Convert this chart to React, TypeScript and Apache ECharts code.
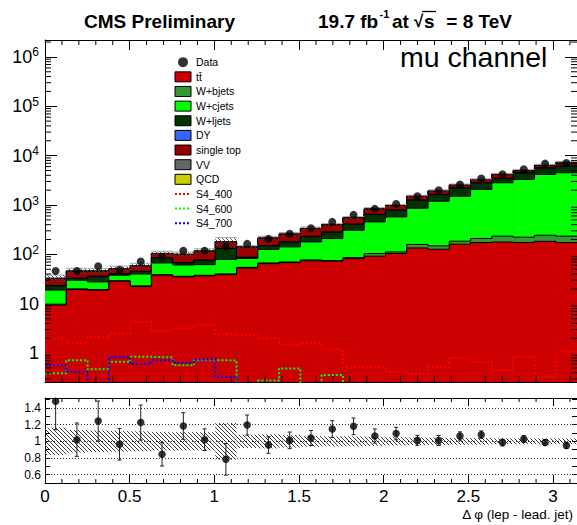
import React, { useEffect, useRef } from "react";
import * as echarts from "echarts";

const FONT = '"Liberation Sans", Arial, Helvetica, sans-serif';
const PI = Math.PI;
const NB = 25;
const BW = PI / NB;
const Y_MIN = 0.26;
const Y_MAX = 2.2e6;
const R_MIN = 0.5;
const R_MAX = 1.52;

// ---- stacked backgrounds (events per bin) ----
const ttbar = [9.4, 19.5, 18.9, 28.6, 22.4, 37.9, 35, 36.7, 39, 53, 65, 68, 74, 73, 82, 92, 104, 135, 127, 161, 174, 178, 174, 184, 174];
const wbjets = [0.4, 0.5, 0.5, 0.6, 0.6, 0.9, 1, 1, 1.2, 1.5, 2, 2, 3, 2, 4, 12, 8, 24, 22, 24, 36, 56, 49, 60, 60];
const wcjets = [9.1, 10, 8.3, 8.7, 17, 28.2, 25, 24.3, 38.8, 28.5, 59, 72, 102, 134, 223, 351, 463, 702, 1045, 1322, 1860, 2586, 3077, 3926, 4266];
const wljets = [4.1, 2.5, 8, 2.1, 5, 17, 6, 14, 53, 3.5, 23, 37, 51, 72, 99, 188, 210, 389, 428, 693, 730, 600, 1100, 1280, 1550];
const dyjets = [0.3, 0.3, 0.4, 0.4, 0.5, 0.6, 0.7, 0.8, 1, 1.2, 1.5, 2, 2.5, 3, 4, 5, 8, 12, 20, 30, 45, 70, 150, 300, 350];
const singleTop = [9.2, 12.9, 9.6, 10.6, 13, 19.4, 31.9, 39.2, 46, 52.3, 62.5, 75, 101.5, 111, 136, 174, 184, 245, 288, 320, 405, 710, 400, 550, 650];
const diboson = [0.3, 0.3, 0.4, 0.4, 0.5, 0.6, 0.8, 0.9, 1, 1.2, 1.5, 2, 2.5, 3, 4, 5, 6, 8, 10, 14, 18, 22, 28, 35, 40];
const qcd = [0, 0, 0, 0, 0, 0, 0, 0, 0, 0, 0, 0, 0, 0, 0, 15, 0, 0, 0, 0, 0, 0, 80, 120, 300];

// ---- data ----
const dataCounts = [46, 46, 57.7, 49, 72, 89, 118, 118, 144, 163, 206, 262, 337, 455, 631, 834, 1052, 1507, 1995, 2600, 3440, 4200, 5300, 6900, 7110];

// ---- signals ----
const s4_400 = [1.98, 1.57, 2.1, 2.5, 4.3, 2.8, 3.2, 3.7, 2.42, 2.3, 1.98, 1.48, 1.6, 1.19, 0.53, 0.53, 0.42, 0.38, 0.53, 0.8, 0.67, 0.45, 0.84, 0.33, 1.06];
const s4_600 = [0.39, 0.72, 0.47, 0.67, 0.84, 0.82, 0.57, 0.72, 0.71, 0, 0.28, 0.49, 0, 0.36, 0, 0, 0, 0, 0, 0, 0, 0, 0, 0, 0];
const s4_700 = [0.57, 0.42, 0, 0.82, 0.6, 0.72, 0.64, 0.74, 0.33, 0, 0, 0, 0, 0, 0, 0, 0, 0, 0, 0, 0, 0, 0, 0, 0];

// ---- ratio panel ----
const ratioValues = [1.48, 1.02, 1.244, 0.965, 1.225, 0.844, 1.184, 1.02, 0.784, 1.196, 0.956, 1.012, 1.04, 1.148, 1.18, 1.064, 1.093, 1.012, 1.01, 1.064, 1.08, 0.985, 1.028, 0.985, 0.949];
const ratioErrors = [0.34, 0.2, 0.24, 0.19, 0.21, 0.14, 0.16, 0.13, 0.19, 0.12, 0.1, 0.1, 0.09, 0.1, 0.1, 0.085, 0.075, 0.06, 0.06, 0.05, 0.045, 0.04, 0.04, 0.035, 0.035];
const bandHalf = [0.165, 0.135, 0.13, 0.125, 0.12, 0.11, 0.11, 0.11, 0.22, 0.08, 0.085, 0.075, 0.065, 0.06, 0.06, 0.055, 0.05, 0.045, 0.045, 0.04, 0.04, 0.035, 0.035, 0.035, 0.035];
const ratioGridLines = [0.6, 0.8, 1, 1.2, 1.4];

const layers = [
  { name: "tt\u0304", color: "#cc0000", values: ttbar },
  { name: "W+bjets", color: "#339933", values: wbjets },
  { name: "W+cjets", color: "#00ff00", values: wcjets },
  { name: "W+ljets", color: "#003300", values: wljets },
  { name: "DY", color: "#3366ff", values: dyjets },
  { name: "single top", color: "#990000", values: singleTop },
  { name: "VV", color: "#666666", values: diboson },
  { name: "QCD", color: "#cccc00", values: qcd },
];
const signals = [
  { name: "S4_400", color: "#ff0000", values: s4_400 },
  { name: "S4_600", color: "#00ff00", values: s4_600 },
  { name: "S4_700", color: "#0000ff", values: s4_700 },
];

const cum: number[][] = [dataCounts.map(() => 0)];
layers.forEach((l, k) => cum.push(cum[k].map((c, i) => c + l.values[i])));
const totals = cum[cum.length - 1];
const center = (i: number) => (i + 0.5) * BW;

function hatch(x0: number, y0: number, x1: number, y1: number, s: number, stroke: string, lw: number) {
  const out: any[] = [];
  if (x1 <= x0 || y1 <= y0) return out;
  let c = Math.ceil((y0 - x1) / s) * s;
  for (; c <= y1 - x0; c += s) {
    const xa = Math.max(x0, y0 - c);
    const xb = Math.min(x1, y1 - c);
    if (xb > xa) out.push({ type: "line", shape: { x1: xa, y1: xa + c, x2: xb, y2: xb + c }, style: { stroke, lineWidth: lw } });
  }
  return out;
}
const seg = (x1: number, y1: number, x2: number, y2: number, w = 1, c = "#000") => ({
  type: "line",
  shape: { x1, y1, x2, y2 },
  style: { stroke: c, lineWidth: w },
});

function buildOption(): any {
  const series: any[] = [];
  // stacks, top layer first so lower layers paint over
  for (let k = layers.length - 1; k >= 0; k--) {
    const L = layers[k];
    series.push({
      type: "custom",
      name: L.name,
      xAxisIndex: 0,
      yAxisIndex: 0,
      clip: true,
      silent: true,
      itemStyle: { color: L.color },
      encode: { x: 0, y: 1 },
      data: cum[k + 1].map((v, i) => [center(i), Math.max(v, Y_MIN)]),
      renderItem: (params: any, api: any) => {
        const i = params.dataIndex;
        const top = Math.max(cum[k + 1][i], Y_MIN);
        const pT = api.coord([i * BW, top]);
        const pB = api.coord([(i + 1) * BW, Y_MIN]);
        const ch: any[] = [
          { type: "rect", shape: { x: pT[0], y: pT[1], width: pB[0] - pT[0] + 0.6, height: pB[1] - pT[1] }, style: { fill: L.color } },
          seg(pT[0], pT[1], pB[0], pT[1]),
        ];
        if (i > 0) {
          const py = api.coord([i * BW, Math.max(cum[k + 1][i - 1], Y_MIN)])[1];
          ch.push(seg(pT[0], py, pT[0], pT[1]));
        }
        return { type: "group", children: ch };
      },
    });
  }
  // uncertainty band on the main pad
  series.push({
    type: "custom",
    xAxisIndex: 0,
    yAxisIndex: 0,
    clip: true,
    silent: true,
    encode: { x: 0, y: 1 },
    data: totals.map((v, i) => [center(i), v]),
    renderItem: (params: any, api: any) => {
      const i = params.dataIndex;
      const a = api.coord([i * BW, totals[i] * (1 + bandHalf[i])]);
      const b = api.coord([(i + 1) * BW, totals[i] * (1 - bandHalf[i])]);
      const ch = hatch(a[0], a[1], b[0], b[1], 4, "#444", 0.9);
      ch.push(seg(a[0], a[1], b[0], a[1], 1, "#aaa"));
      return { type: "group", children: ch };
    },
  });
  // signals
  signals.forEach((s) => {
    const pts = s.values.map((v, i) => [i * BW, v > 0 ? v : 0.1]);
    const last = s.values[NB - 1];
    pts.push([PI, last > 0 ? last : 0.1]);
    series.push({
      type: "line",
      name: s.name,
      xAxisIndex: 0,
      yAxisIndex: 0,
      step: "end",
      symbol: "none",
      silent: true,
      clip: true,
      color: s.color,
      lineStyle: { color: s.color, width: 2, type: "dotted" },
      data: pts,
    });
  });
  // data points
  series.push({
    type: "scatter",
    name: "Data",
    xAxisIndex: 0,
    yAxisIndex: 0,
    symbol: "circle",
    symbolSize: 8,
    silent: true,
    itemStyle: { color: "#000" },
    data: dataCounts.map((v, i) => [center(i), v]),
    z: 4,
  });
  // minor ticks main pad
  series.push({
    type: "custom",
    xAxisIndex: 0,
    yAxisIndex: 0,
    clip: false,
    silent: true,
    z: 5,
    encode: { x: 0, y: 1 },
    data: [[0, 1]],
    renderItem: (params: any, api: any) => {
      const bl = api.coord([0, Y_MIN]);
      const tr = api.coord([PI, Y_MAX]);
      const ch: any[] = [];
      for (let k = 1; k <= 31; k++) {
        if (k % 5 === 0) continue;
        const px = api.coord([k / 10, Y_MIN])[0];
        ch.push(seg(px, bl[1], px, bl[1] - 6));
        ch.push(seg(px, tr[1], px, tr[1] + 5));
      }
      for (let e = -1; e <= 6; e++) {
        for (let m = 2; m <= 9; m++) {
          const v = m * Math.pow(10, e);
          if (v < Y_MIN || v > Y_MAX) continue;
          const py = api.coord([0, v])[1];
          ch.push(seg(bl[0], py, bl[0] + 6, py));
          ch.push(seg(tr[0], py, tr[0] - 6, py));
        }
      }
      return { type: "group", children: ch };
    },
  });

  // ratio band
  series.push({
    type: "custom",
    xAxisIndex: 2,
    yAxisIndex: 2,
    clip: true,
    silent: true,
    encode: { x: 0, y: 1 },
    data: bandHalf.map((h, i) => [center(i), 1]),
    renderItem: (params: any, api: any) => {
      const i = params.dataIndex;
      const a = api.coord([i * BW, 1 + bandHalf[i]]);
      const b = api.coord([(i + 1) * BW, 1 - bandHalf[i]]);
      return { type: "group", children: hatch(a[0], a[1], b[0], b[1], 4, "#3a3a3a", 1) };
    },
  });
  // ratio error bars
  series.push({
    type: "custom",
    xAxisIndex: 2,
    yAxisIndex: 2,
    clip: true,
    silent: true,
    encode: { x: 0, y: 1 },
    data: ratioValues.map((r, i) => [center(i), r]),
    renderItem: (params: any, api: any) => {
      const i = params.dataIndex;
      const lo = api.coord([center(i), ratioValues[i] - ratioErrors[i]]);
      const hi = api.coord([center(i), ratioValues[i] + ratioErrors[i]]);
      return {
        type: "group",
        children: [
          seg(lo[0], lo[1], hi[0], hi[1], 1, "#222"),
          seg(lo[0] - 2, lo[1], lo[0] + 2, lo[1], 1, "#222"),
          seg(hi[0] - 2, hi[1], hi[0] + 2, hi[1], 1, "#222"),
        ],
      };
    },
  });
  series.push({
    type: "scatter",
    xAxisIndex: 2,
    yAxisIndex: 2,
    symbol: "circle",
    symbolSize: 7.5,
    silent: true,
    itemStyle: { color: "#000" },
    data: ratioValues.map((r, i) => [center(i), r]),
    z: 4,
    markLine: {
      silent: true,
      symbol: ["none", "none"],
      label: { show: false },
      lineStyle: { color: "#333", width: 1, type: [1, 2] },
      data: ratioGridLines.map((v) => ({ yAxis: v })),
    },
  });
  // ratio minor ticks
  series.push({
    type: "custom",
    xAxisIndex: 2,
    yAxisIndex: 2,
    clip: false,
    silent: true,
    z: 5,
    encode: { x: 0, y: 1 },
    data: [[0, 1]],
    renderItem: (params: any, api: any) => {
      const bl = api.coord([0, R_MIN]);
      const tr = api.coord([PI, R_MAX]);
      const ch: any[] = [];
      for (let k = 1; k <= 31; k++) {
        if (k % 5 === 0) continue;
        const px = api.coord([k / 10, R_MIN])[0];
        ch.push(seg(px, bl[1], px, bl[1] - 4));
        ch.push(seg(px, tr[1], px, tr[1] + 4));
      }
      return { type: "group", children: ch };
    },
  });

  const axisLine = { show: true, onZero: false, lineStyle: { color: "#000", width: 1 } };
  const xCommon = { type: "value", min: 0, max: PI, interval: 0.5, splitLine: { show: false } };
  const titleFont = "bold 19px " + FONT;

  return {
    animation: false,
    backgroundColor: "#fff",
    grid: [
      { left: 45, top: 40, width: 532, height: 342 },
      { left: 45, top: 398, width: 532, height: 85 },
    ],
    xAxis: [
      { ...xCommon, gridIndex: 0, position: "bottom", axisLine, axisTick: { inside: true, length: 12, lineStyle: { color: "#000" } }, axisLabel: { show: false } },
      { ...xCommon, gridIndex: 0, position: "top", axisLine, axisTick: { inside: true, length: 10, lineStyle: { color: "#000" } }, axisLabel: { show: false } },
      {
        ...xCommon,
        gridIndex: 1,
        position: "bottom",
        axisLine,
        axisTick: { inside: true, length: 8, lineStyle: { color: "#000" } },
        axisLabel: { show: true, fontFamily: FONT, fontSize: 17, color: "#000", margin: 5, showMaxLabel: false, formatter: (v: number) => String(Math.round(v * 10) / 10) },
      },
      { ...xCommon, gridIndex: 1, position: "top", axisLine, axisTick: { inside: true, length: 8, lineStyle: { color: "#000" } }, axisLabel: { show: false } },
    ],
    yAxis: [
      {
        type: "log",
        logBase: 10,
        gridIndex: 0,
        min: Y_MIN,
        max: Y_MAX,
        position: "left",
        axisLine,
        splitLine: { show: false },
        axisTick: { inside: true, length: 12, lineStyle: { color: "#000" } },
        axisLabel: {
          show: true,
          margin: 6,
          showMinLabel: false,
          showMaxLabel: false,
          formatter: (v: number) => {
            const e = Math.round(Math.log10(v));
            if (e === 0) return "{b|1}";
            if (e === 1) return "{b|10}";
            return "{b|10}{s|" + e + "}";
          },
          rich: {
            b: { fontFamily: FONT, fontSize: 18, color: "#000" },
            s: { fontFamily: FONT, fontSize: 12, color: "#000", padding: [0, 0, 9, 0] },
          },
        },
      },
      {
        type: "log",
        logBase: 10,
        gridIndex: 0,
        min: Y_MIN,
        max: Y_MAX,
        position: "right",
        axisLine,
        splitLine: { show: false },
        axisTick: { inside: true, length: 12, lineStyle: { color: "#000" } },
        axisLabel: { show: false },
      },
      {
        type: "value",
        gridIndex: 1,
        min: R_MIN,
        max: R_MAX,
        interval: 0.1,
        position: "left",
        axisLine,
        splitLine: { show: false },
        axisTick: { inside: true, length: 5, lineStyle: { color: "#000" } },
        axisLabel: {
          show: true,
          margin: 4,
          fontFamily: FONT,
          fontSize: 12,
          color: "#000",
          showMaxLabel: false,
          showMinLabel: false,
          formatter: (v: number) => {
            const t = Math.round(v * 10);
            return ratioGridLines.some((g) => Math.round(g * 10) === t) ? String(t / 10) : "";
          },
        },
      },
      {
        type: "value",
        gridIndex: 1,
        min: R_MIN,
        max: R_MAX,
        interval: 0.1,
        position: "right",
        axisLine,
        splitLine: { show: false },
        axisTick: { inside: true, length: 5, lineStyle: { color: "#000" } },
        axisLabel: { show: false },
      },
    ],
    legend: {
      orient: "vertical",
      left: 174,
      top: 56.7,
      padding: 0,
      itemWidth: 16,
      itemHeight: 10,
      itemGap: 3.64,
      selectedMode: false,
      textStyle: { fontFamily: FONT, fontSize: 10.5, color: "#000", lineHeight: 10 },
      data: [
        { name: "Data", icon: "circle" },
        ...layers.map((l) => ({ name: l.name, icon: "rect", itemStyle: { borderColor: "#000", borderWidth: 1 } })),
        ...signals.map((s) => ({ name: s.name, itemStyle: { opacity: 0 } })),
      ],
    },
    graphic: [
      { type: "text", x: 84, y: 21, style: { text: "CMS Preliminary", font: titleFont, fill: "#000", verticalAlign: "middle" } },
      { type: "text", x: 318, y: 21, style: { text: "19.7 fb", font: titleFont, fill: "#000", verticalAlign: "middle" } },
      { type: "text", x: 379.5, y: 14, style: { text: "-1", font: "bold 11px " + FONT, fill: "#000", verticalAlign: "middle" } },
      { type: "text", x: 392, y: 21, style: { text: "at", font: titleFont, fill: "#000", verticalAlign: "middle" } },
      { type: "text", x: 414, y: 21, style: { text: "\u221a", font: "bold 17px " + FONT, fill: "#000", verticalAlign: "middle" } },
      { type: "line", shape: { x1: 422, y1: 11.5, x2: 436, y2: 11.5 }, style: { stroke: "#000", lineWidth: 1.3 } },
      { type: "text", x: 424, y: 21, style: { text: "s", font: titleFont, fill: "#000", verticalAlign: "middle" } },
      { type: "text", x: 512, y: 21, style: { text: "= 8 TeV", font: titleFont, fill: "#000", align: "right", verticalAlign: "middle" } },
      { type: "text", x: 400, y: 57, style: { text: "mu channel", font: "28.5px " + FONT, fill: "#000", verticalAlign: "middle" } },
      { type: "text", x: 573, y: 514, style: { text: "\u0394 \u03c6 (lep - lead. jet)", font: "13.5px " + FONT, fill: "#000", align: "right", verticalAlign: "middle" } },
    ],
    series,
  };
}

export default function App() {
  const ref = useRef<HTMLDivElement>(null);
  useEffect(() => {
    if (!ref.current) return;
    const chart = echarts.init(ref.current, null, { renderer: "svg" });
    chart.setOption(buildOption());
    return () => chart.dispose();
  }, []);
  return <div ref={ref} style={{ position: "fixed", left: 0, top: 0, width: 577, height: 525, background: "#fff" }} />;
}
